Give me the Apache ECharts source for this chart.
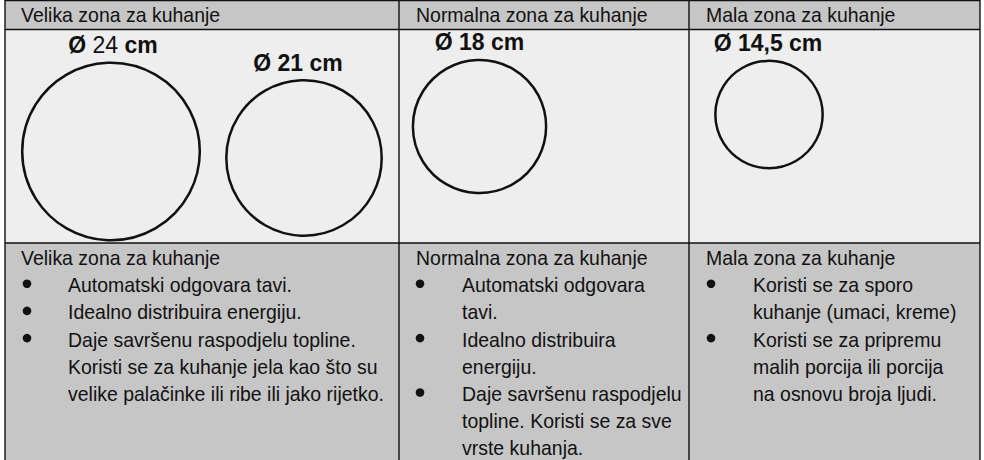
<!DOCTYPE html>
<html><head><meta charset="utf-8">
<script src="https://cdn.jsdelivr.net/npm/echarts@6/dist/echarts.min.js"></script>
<style>html,body{margin:0;padding:0;background:#fff}#c{width:984px;height:460px}</style>
</head><body><div id="c"></div>
<script>
// ---------- data ----------
const zoneTitles = ['Velika zona za kuhanje', 'Normalna zona za kuhanje', 'Mala zona za kuhanje'];
const diameters = [24, 21, 18, 14.5];            // cm
const diameterZone = [0, 0, 1, 2];               // which zone each hob belongs to
const bulletsVelika = [
  ['Automatski odgovara tavi.'],
  ['Idealno distribuira energiju.'],
  ['Daje savršenu raspodjelu topline.', 'Koristi se za kuhanje jela kao što su', 'velike palačinke ili ribe ili jako rijetko.']
];
const bulletsNormalna = [
  ['Automatski odgovara', 'tavi.'],
  ['Idealno distribuira', 'energiju.'],
  ['Daje savršenu raspodjelu', 'topline. Koristi se za sve', 'vrste kuhanja.']
];
const bulletsMala = [
  ['Koristi se za sporo', 'kuhanje (umaci, kreme)'],
  ['Koristi se za pripremu', 'malih porcija ili porcija', 'na osnovu broja ljudi.']
];
const zoneBullets = [bulletsVelika, bulletsNormalna, bulletsMala];

// ---------- layout / style ----------
const FONT = '"Liberation Sans", Arial, Helvetica, sans-serif';
const L = {
  colX: [5, 399, 689, 980],
  rowY: [0.5, 29.5, 243, 475],
  pxPerCm: 7.4,
  circleCenterPx: [[106, 122], [299, 128.5], [474.5, 97], [764, 85]], // relative to drawing row
  labelDx: [2, -6, 0, -1],
  labelGap: 6,
  labelNumWeight: ['normal', 'bold', 'bold', 'bold'],
  fs: 20.5, scaleX: 0.95, lineH: 27.2,
  headerBaseline: 22, bodyTitleBaseline: 265,
  titleX: [21, 416, 706], bulletX: [27, 420, 711], itemX: [68, 462, 753],
  dark: '#c6c6c6', light: '#eeeeee', ink: '#111'
};
const k = L.pxPerCm;
const gridW = L.colX[3] - L.colX[0];
const gridH = L.rowY[2] - L.rowY[1];

function fmt(d) { return String(d).replace('.', ','); }

// ---------- table graphics ----------
const g = [];
const x0 = L.colX[0], x3 = L.colX[3];
g.push({type: 'rect', z: 0, shape: {x: x0, y: L.rowY[0], width: gridW, height: L.rowY[1] - L.rowY[0]}, style: {fill: L.dark}});
g.push({type: 'rect', z: 0, shape: {x: x0, y: L.rowY[1], width: gridW, height: L.rowY[2] - L.rowY[1]}, style: {fill: L.light}});
g.push({type: 'rect', z: 0, shape: {x: x0, y: L.rowY[2], width: gridW, height: L.rowY[3] - L.rowY[2]}, style: {fill: L.dark}});
L.rowY.slice(0, 3).forEach(y => g.push({type: 'line', z: 5, shape: {x1: x0, y1: y, x2: x3, y2: y}, style: {stroke: L.ink, lineWidth: 1.4}}));
L.colX.forEach(x => g.push({type: 'line', z: 5, shape: {x1: x, y1: 0, x2: x, y2: 470}, style: {stroke: L.ink, lineWidth: 1.4}}));

function textEl(str, x, baseline) {
  return {type: 'text', z: 6, x: x, y: baseline - 0.3465 * L.fs, scaleX: L.scaleX,
    style: {text: str, x: 0, y: 0, font: L.fs + 'px ' + FONT, fill: L.ink, align: 'left', verticalAlign: 'middle'}};
}
zoneTitles.forEach((t, i) => {
  g.push(textEl(t, L.titleX[i], L.headerBaseline));
  g.push(textEl(t, L.titleX[i], L.bodyTitleBaseline));
  let line = 1;
  zoneBullets[i].forEach(item => {
    const b = L.bodyTitleBaseline + line * L.lineH;
    g.push({type: 'circle', z: 6, shape: {cx: L.bulletX[i], cy: b - 8.5, r: 4.3}, style: {fill: L.ink}});
    item.forEach(s => {
      g.push(textEl(s, L.itemX[i], L.bodyTitleBaseline + line * L.lineH));
      line++;
    });
  });
});

// ---------- circles through the axes ----------
const circleData = diameters.map((d, i) => [L.circleCenterPx[i][0] / k, L.circleCenterPx[i][1] / k, d, i]);

const chart = echarts.init(document.getElementById('c'), null, {renderer: 'svg'});
chart.setOption({
  animation: false,
  backgroundColor: '#fff',
  grid: {left: x0, top: L.rowY[1], width: gridW, height: gridH, containLabel: false},
  xAxis: {type: 'value', min: 0, max: gridW / k, show: false, splitLine: {show: false}},
  yAxis: {type: 'value', min: 0, max: gridH / k, inverse: true, show: false, splitLine: {show: false}},
  graphic: {elements: g},
  series: [{
    type: 'custom', z: 10, clip: false,
    data: circleData,
    renderItem: function (params, api) {
      const c = api.coord([api.value(0), api.value(1)]);
      const s = api.size([api.value(2), api.value(2)]);
      const r = s[0] / 2;
      const i = api.value(3);
      const num = fmt(diameters[i]);
      return {type: 'group', children: [
        {type: 'circle', shape: {cx: c[0], cy: c[1], r: r}, style: {fill: 'none', stroke: L.ink, lineWidth: 2.5}},
        {type: 'text', style: {
          text: '{b|Ø} {n|' + num + '} {b|cm}',
          rich: {b: {font: 'bold 23px ' + FONT, fill: L.ink}, n: {font: L.labelNumWeight[i] + ' 23px ' + FONT, fill: L.ink}},
          font: 'bold 23px ' + FONT, fill: L.ink,
          x: c[0] + L.labelDx[i], y: c[1] - r - L.labelGap, align: 'center', verticalAlign: 'bottom'}}
      ]};
    }
  }]
});
</script>
</body></html>
